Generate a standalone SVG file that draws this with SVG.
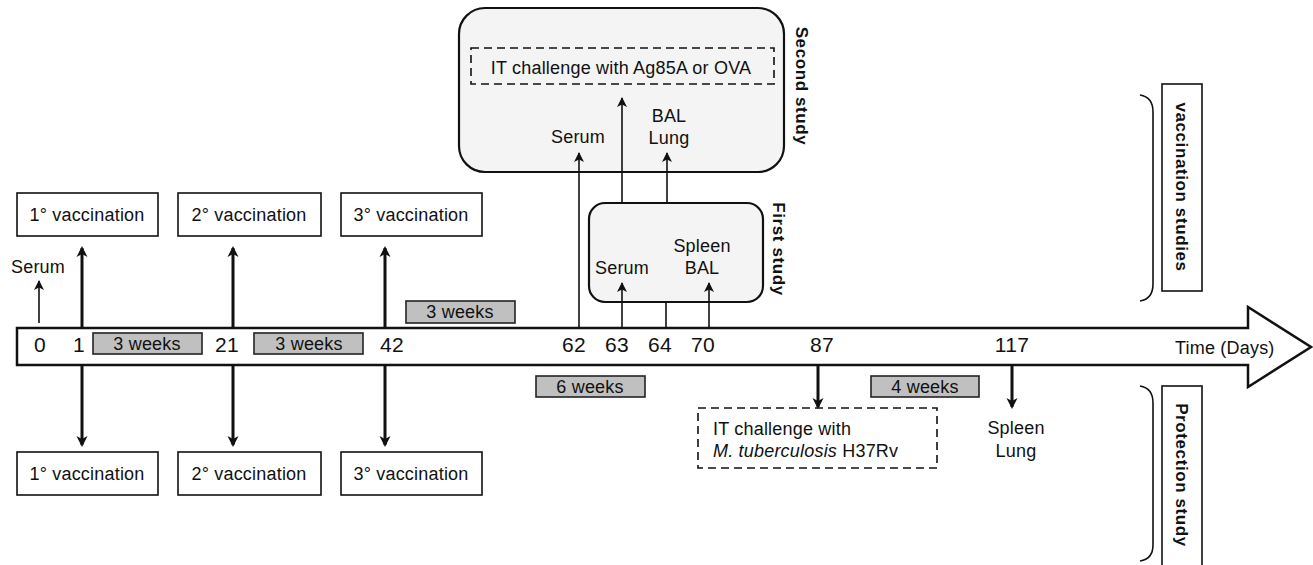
<svg xmlns="http://www.w3.org/2000/svg" width="1313" height="565" viewBox="0 0 1313 565">
<style>
text{font-family:"Liberation Sans",Arial,sans-serif;fill:#111}
.t{font-size:18px;letter-spacing:0.2px}
.num{font-size:21px;letter-spacing:0.3px}
.b{font-size:17px;font-weight:bold;letter-spacing:0.6px}
.box{fill:#fff;stroke:#111;stroke-width:1.6}
.wk{fill:#c0c0c0;stroke:#222;stroke-width:1.6}
.thick{stroke:#111;stroke-width:3;fill:none}
.thin{stroke:#111;stroke-width:1.6;fill:none}
.dash{fill:none;stroke:#111;stroke-width:1.6;stroke-dasharray:8,5}
.rbox{fill:#f4f4f4;stroke:#111;stroke-width:2.2}
</style>
<defs>
<marker id="ah" markerWidth="12" markerHeight="12" refX="9" refY="5.5" orient="auto" markerUnits="userSpaceOnUse">
<path d="M0,0.5 L10,5.5 L0,10.5 L2.5,5.5 Z" fill="#111"/>
</marker>
<marker id="ahb" markerWidth="12" markerHeight="12" refX="9" refY="6" orient="auto" markerUnits="userSpaceOnUse">
<path d="M0,0.5 L11,6 L0,11.5 L3,6 Z" fill="#111"/>
</marker>
</defs>
<rect width="1313" height="565" fill="#fff"/>

<g id="second-study">
<rect class="rbox" x="459" y="8" width="325" height="164" rx="26"/>
<rect class="dash" x="471" y="48" width="303" height="36"/>
<text class="t" x="621" y="74" text-anchor="middle">IT challenge with Ag85A or OVA</text>
<text class="t" x="578" y="143" text-anchor="middle">Serum</text>
<text class="t" x="669" y="122" text-anchor="middle">BAL</text>
<text class="t" x="669" y="144" text-anchor="middle">Lung</text>
<text class="b" transform="translate(796,86) rotate(90)" text-anchor="middle">Second study</text>
</g>

<g id="first-study">
<rect class="rbox" x="589" y="203" width="174" height="99" rx="16"/>
<text class="t" x="622" y="274" text-anchor="middle">Serum</text>
<text class="t" x="702" y="252" text-anchor="middle">Spleen</text>
<text class="t" x="702" y="274" text-anchor="middle">BAL</text>
<text class="b" transform="translate(773,249) rotate(90)" text-anchor="middle">First study</text>
</g>

<g id="timeline">
<polygon points="17,328 1248,328 1248,307 1311,347 1248,387 1248,365 17,365" fill="#fff" stroke="#111" stroke-width="2.5" stroke-linejoin="miter"/>
<text class="num" x="40" y="352" text-anchor="middle">0</text>
<text class="num" x="79" y="352" text-anchor="middle">1</text>
<text class="num" x="227" y="352" text-anchor="middle">21</text>
<text class="num" x="392" y="352" text-anchor="middle">42</text>
<text class="num" x="574" y="352" text-anchor="middle">62</text>
<text class="num" x="617" y="352" text-anchor="middle">63</text>
<text class="num" x="660" y="352" text-anchor="middle">64</text>
<text class="num" x="703" y="352" text-anchor="middle">70</text>
<text class="num" x="822" y="352" text-anchor="middle">87</text>
<text class="num" x="1012" y="352" text-anchor="middle">117</text>
<text class="t" x="1175" y="354">Time (Days)</text>
</g>

<g id="weeks">
<rect class="wk" x="93" y="333" width="109" height="21"/>
<text class="t" x="147" y="350" text-anchor="middle">3 weeks</text>
<rect class="wk" x="254" y="333" width="109" height="21"/>
<text class="t" x="309" y="350" text-anchor="middle">3 weeks</text>
<rect class="wk" x="406" y="301" width="109" height="22"/>
<text class="t" x="460" y="318" text-anchor="middle">3 weeks</text>
<rect class="wk" x="536" y="376" width="109" height="21"/>
<text class="t" x="590" y="393" text-anchor="middle">6 weeks</text>
<rect class="wk" x="871" y="376" width="108" height="21"/>
<text class="t" x="925" y="393" text-anchor="middle">4 weeks</text>
</g>

<g id="vacc-top">
<rect class="box" x="17" y="193" width="141" height="43"/>
<text class="t" x="87" y="221" text-anchor="middle">1° vaccination</text>
<rect class="box" x="178" y="193" width="143" height="43"/>
<text class="t" x="249" y="221" text-anchor="middle">2° vaccination</text>
<rect class="box" x="341" y="193" width="141" height="43"/>
<text class="t" x="411" y="221" text-anchor="middle">3° vaccination</text>
<text class="t" x="38" y="273" text-anchor="middle">Serum</text>
</g>

<g id="vacc-bottom">
<rect class="box" x="17" y="452" width="141" height="43"/>
<text class="t" x="87" y="480" text-anchor="middle">1° vaccination</text>
<rect class="box" x="178" y="452" width="143" height="43"/>
<text class="t" x="249" y="480" text-anchor="middle">2° vaccination</text>
<rect class="box" x="341" y="452" width="141" height="43"/>
<text class="t" x="411" y="480" text-anchor="middle">3° vaccination</text>
</g>

<g id="challenge">
<rect class="dash" x="698" y="408" width="239" height="60"/>
<text class="t" x="713" y="435">IT challenge with</text>
<text class="t" x="713" y="457"><tspan font-style="italic">M. tuberculosis</tspan> H37Rv</text>
</g>

<g id="readout-117">
<text class="t" x="1016" y="434" text-anchor="middle">Spleen</text>
<text class="t" x="1016" y="457" text-anchor="middle">Lung</text>
</g>

<g id="vaccination-studies">
<path class="thin" d="M1140,95 Q1153,97 1153,112 L1153,284 Q1153,299 1140,301"/>
<rect class="box" x="1162" y="84" width="40" height="207" stroke-width="2.2"/>
<text class="b" transform="translate(1176,187) rotate(90)" text-anchor="middle">vaccination studies</text>
</g>

<g id="protection-study">
<path class="thin" d="M1140,386 Q1153,388 1153,403 L1153,545 Q1153,559 1140,561"/>
<rect class="box" x="1162" y="386" width="40" height="190" stroke-width="2.2"/>
<text class="b" transform="translate(1176,475) rotate(90)" text-anchor="middle">Protection study</text>
</g>

<g id="connectors">
<line class="thin" x1="39" y1="323" x2="39" y2="281" marker-end="url(#ah)"/>
<line class="thick" x1="82" y1="328" x2="82" y2="248" marker-end="url(#ahb)"/>
<line class="thick" x1="233" y1="328" x2="233" y2="248" marker-end="url(#ahb)"/>
<line class="thick" x1="385" y1="328" x2="385" y2="248" marker-end="url(#ahb)"/>
<line class="thick" x1="82" y1="365" x2="82" y2="445" marker-end="url(#ahb)"/>
<line class="thick" x1="233" y1="365" x2="233" y2="445" marker-end="url(#ahb)"/>
<line class="thick" x1="385" y1="365" x2="385" y2="445" marker-end="url(#ahb)"/>
<line class="thin" x1="579" y1="328" x2="579" y2="153" marker-end="url(#ah)"/>
<line class="thin" x1="622" y1="328" x2="622" y2="283" marker-end="url(#ah)"/>
<line class="thin" x1="666" y1="328" x2="666" y2="302"/>
<line class="thin" x1="709" y1="328" x2="709" y2="283" marker-end="url(#ah)"/>
<line class="thin" x1="622" y1="203" x2="622" y2="98" marker-end="url(#ah)"/>
<line class="thin" x1="667" y1="203" x2="667" y2="153" marker-end="url(#ah)"/>
<line class="thick" x1="818" y1="365" x2="818" y2="407" stroke-width="2.4" marker-end="url(#ahb)"/>
<line class="thick" x1="1012" y1="365" x2="1012" y2="407" stroke-width="2" marker-end="url(#ahb)"/>
</g>
</svg>
